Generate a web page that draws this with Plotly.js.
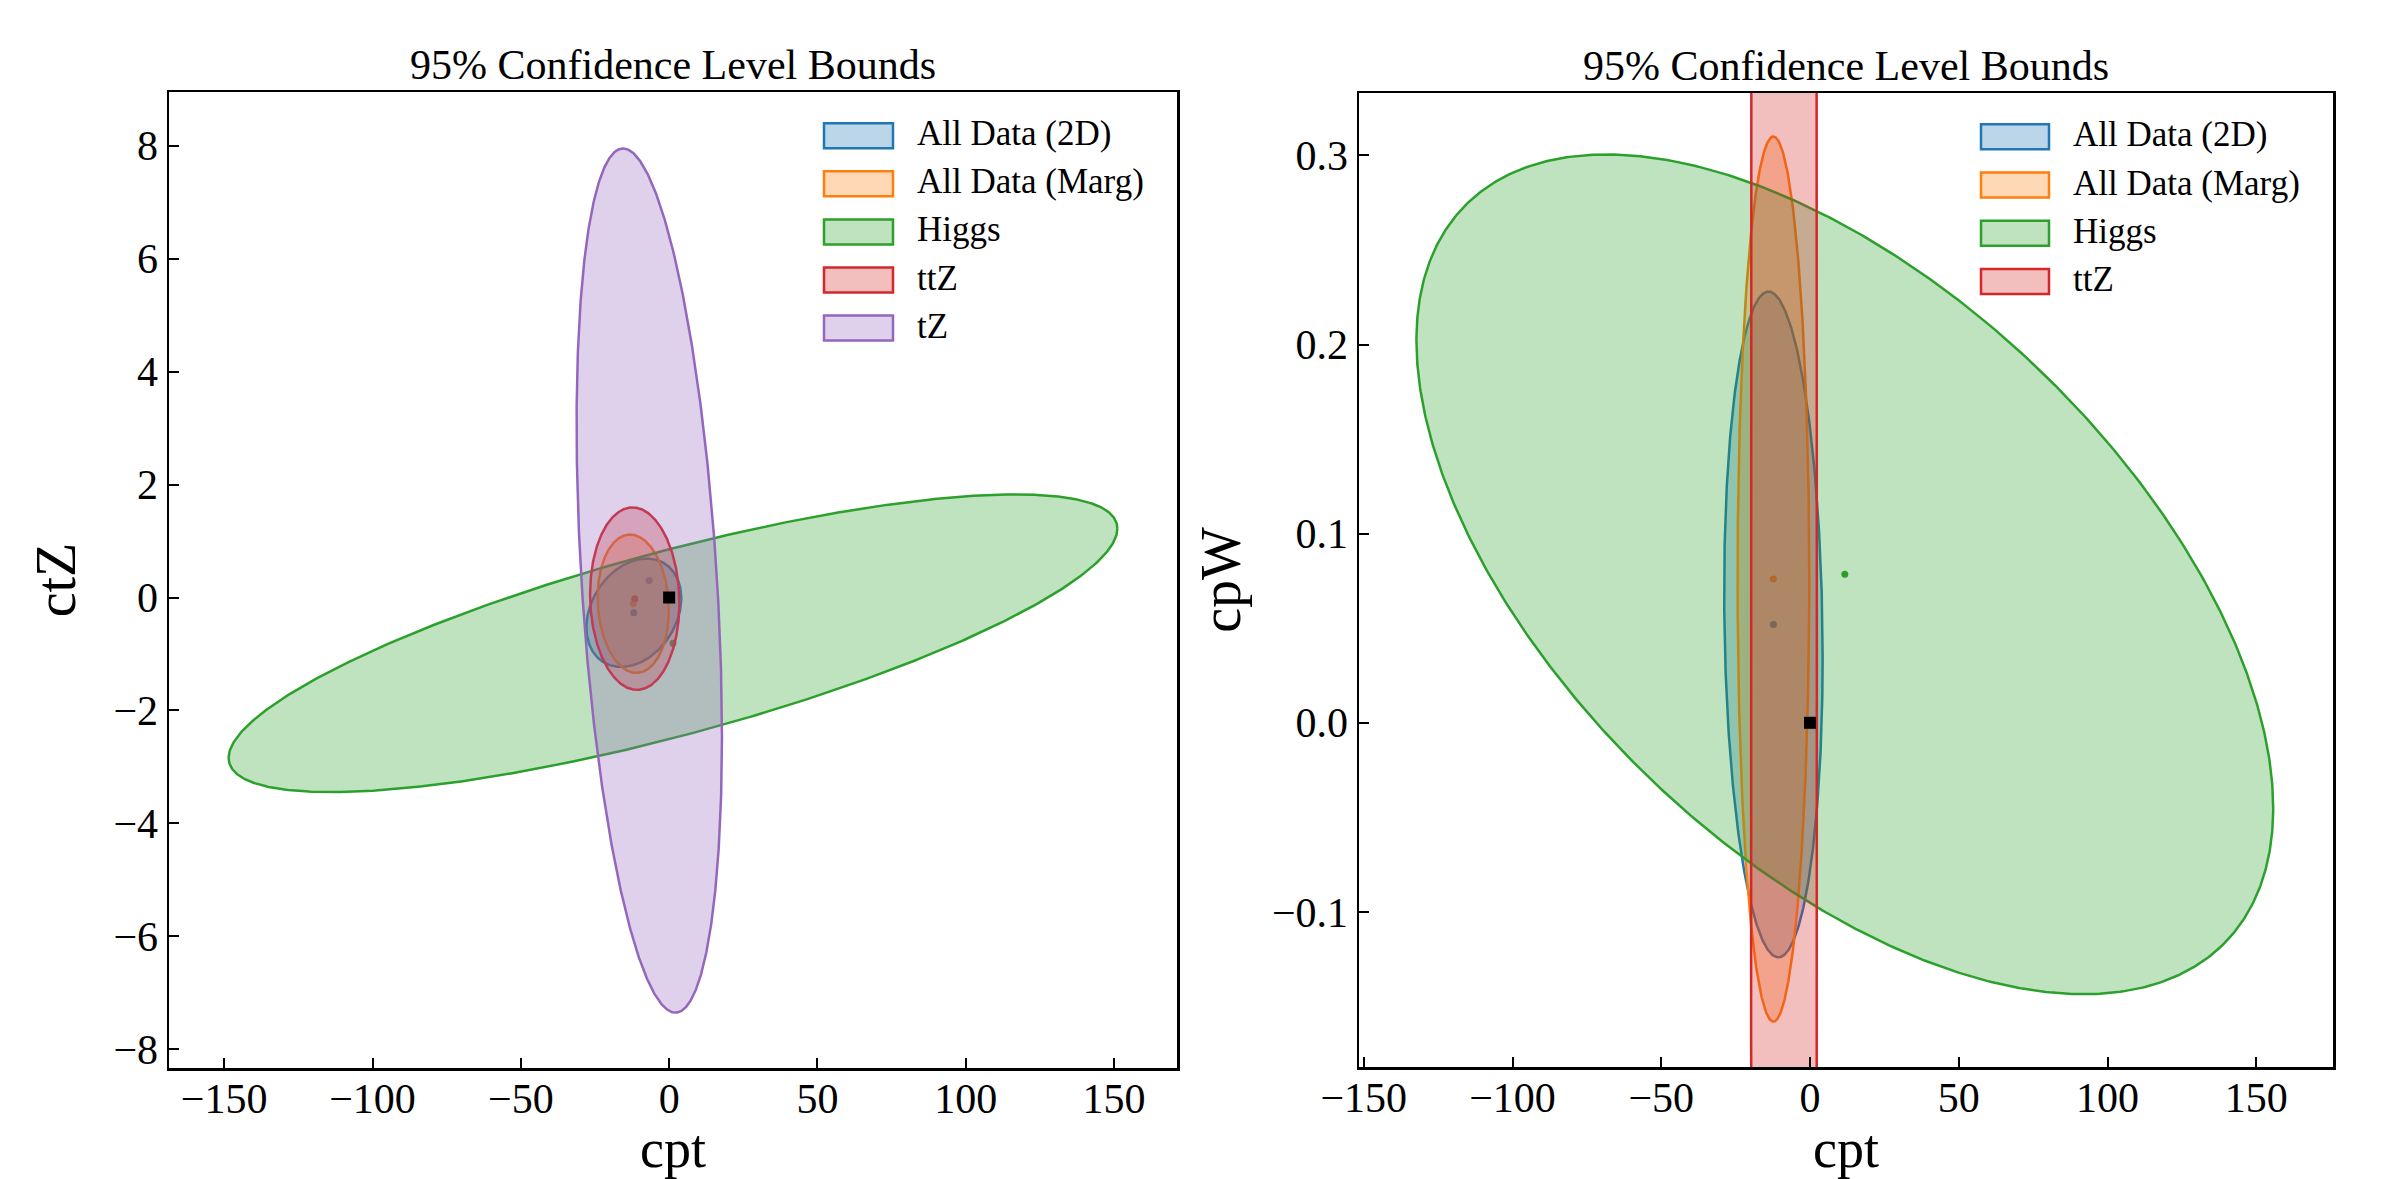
<!DOCTYPE html>
<html>
<head>
<meta charset="utf-8">
<script src="https://cdn.plot.ly/plotly-3.0.1.min.js"></script>
<style>
  html, body { margin: 0; padding: 0; background: #fff; }
  #chart { width: 2387px; height: 1179px; }
</style>
</head>
<body>
<div id="chart"></div>
<script>
// ---------------- DATA ----------------
const seriesNames  = ['All Data (2D)', 'All Data (Marg)', 'Higgs', 'ttZ', 'tZ'];
const seriesColors = ['#1f77b4', '#ff7f0e', '#2ca02c', '#d62728', '#9467bd'];

// Left panel: cpt (x) vs ctZ (y) -- best-fit centre, half extents, correlation
const leftCenterX = [-11.9, -12.1, 1.3, -11.6, -6.7];
const leftCenterY = [-0.27, -0.11, -0.81, -0.02, 0.30];
const leftHalfX   = [16.0, 12.0, 149.8, 15.05, 24.5];
const leftHalfY   = [0.96, 1.225, 2.635, 1.615, 7.65];
const leftRho     = [0.27, -0.09, 0.77, -0.05, -0.36];

// Right panel: cpt (x) vs cpW (y) -- only first four series
const rightCenterX = [-12.3, -12.3, 11.7, -8.75];
const rightCenterY = [0.052, 0.076, 0.0785, 0.05];
const rightHalfX   = [16.55, 12.05, 144.0, 11.05];
const rightHalfY   = [0.176, 0.234, 0.222, 5.0];
const rightRho     = [-0.10, 0.0, -0.557, 0.0];
const rightShowDot = [true, true, true, false];

const smPoint = [0, 0];   // Standard Model point

const titleText = '95% Confidence Level Bounds';
const xLabel = 'cpt';
const leftYLabel = 'ctZ';
const rightYLabel = 'cpW';

// ---------------- BUILD ----------------
const W = 2387, H = 1179;
const FONT = 'Liberation Serif, Times New Roman, serif';

function rgba(hex, a) {
  const r = parseInt(hex.slice(1,3),16), g = parseInt(hex.slice(3,5),16), b = parseInt(hex.slice(5,7),16);
  return `rgba(${r},${g},${b},${a})`;
}
function ellipse(cx, cy, hx, hy, rho) {
  const xs = [], ys = [], n = 720, s = Math.sqrt(1 - rho*rho);
  for (let i = 0; i <= n; i++) {
    const t = 2*Math.PI*i/n;
    xs.push(cx + hx*Math.cos(t));
    ys.push(cy + hy*(rho*Math.cos(t) + s*Math.sin(t)));
  }
  return {xs, ys};
}

const traces = [];
function addPanel(xa, ya, cx, cy, hx, hy, rho, showDot) {
  // centre dots first (drawn underneath the filled regions)
  for (let i = 0; i < cx.length; i++) {
    if (showDot && !showDot[i]) continue;
    traces.push({type:'scatter', mode:'markers', x:[cx[i]], y:[cy[i]], xaxis:xa, yaxis:ya,
      marker:{color:seriesColors[i], size:7}, showlegend:false, hoverinfo:'skip'});
  }
  for (let i = 0; i < cx.length; i++) {
    const e = ellipse(cx[i], cy[i], hx[i], hy[i], rho[i]);
    traces.push({type:'scatter', mode:'lines', x:e.xs, y:e.ys, xaxis:xa, yaxis:ya,
      fill:'toself', fillcolor:rgba(seriesColors[i], 0.3),
      line:{color:seriesColors[i], width:2.5}, name:seriesNames[i], showlegend:false, hoverinfo:'skip'});
  }
  traces.push({type:'scatter', mode:'markers', x:[smPoint[0]], y:[smPoint[1]], xaxis:xa, yaxis:ya,
    marker:{color:'#000', size:12, symbol:'square'}, showlegend:false, hoverinfo:'skip'});
}
addPanel('x', 'y', leftCenterX, leftCenterY, leftHalfX, leftHalfY, leftRho, null);
addPanel('x2', 'y2', rightCenterX, rightCenterY, rightHalfX, rightHalfY, rightRho, rightShowDot);

function axisBase(extra) {
  return Object.assign({
    showline:true, linecolor:'#000', linewidth:2.5, mirror:true,
    ticks:'inside', ticklen:10, tickwidth:2, tickcolor:'#000',
    showgrid:false, zeroline:false,
    tickfont:{family:FONT, size:42, color:'#000'},
    fixedrange:true
  }, extra);
}

const L = {x0:169, x1:1177, y0:92, y1:1068};
const R = {x0:1359, x1:2333, y0:93, y1:1067};
const labelFont = {family:FONT, size:56, color:'#000'};
const xLabelFont = {family:FONT, size:54, color:'#000'};

const layout = {
  width: W, height: H,
  margin:{l:0, r:0, t:0, b:0, pad:0},
  paper_bgcolor:'#fff', plot_bgcolor:'#fff',
  showlegend:false,
  font:{family:FONT, color:'#000'},
  xaxis: axisBase({domain:[L.x0/W, L.x1/W], anchor:'y', range:[-168.6, 171.2], dtick:50, tick0:0,
    ticklabelstandoff:-8, title:{text:xLabel, font:xLabelFont, standoff:4}}),
  yaxis: axisBase({domain:[1-L.y1/H, 1-L.y0/H], anchor:'x', range:[-8.33, 8.95], dtick:2, tick0:0,
    title:{text:leftYLabel, font:labelFont, standoff:20}}),
  xaxis2: axisBase({domain:[R.x0/W, R.x1/W], anchor:'y2', range:[-151.6, 175.8], dtick:50, tick0:0,
    ticklabelstandoff:-8, title:{text:xLabel, font:xLabelFont, standoff:4}}),
  yaxis2: axisBase({domain:[1-R.y1/H, 1-R.y0/H], anchor:'x2', range:[-0.182, 0.333], dtick:0.1, tick0:0,
    tickformat:'.1f',
    title:{text:rightYLabel, font:labelFont, standoff:14}}),
  annotations: [],
  shapes: []
};

// panel titles
[L, R].forEach(P => {
  layout.annotations.push({text:titleText, xref:'paper', yref:'paper',
    x:(P.x0+P.x1)/2/W, y:1-P.y0/H, xanchor:'center', yanchor:'bottom', yshift:2,
    showarrow:false, font:{family:FONT, size:42, color:'#000'}});
});

// legends (patch + label per series)
function addLegend(n, patchX0, patchX1, textX, rowY0, dy) {
  for (let i = 0; i < n; i++) {
    const cy = rowY0 + i*dy;
    layout.shapes.push({type:'rect', xref:'paper', yref:'paper',
      x0:patchX0/W, x1:patchX1/W, y0:1-(cy-12.5)/H, y1:1-(cy+12.5)/H,
      fillcolor:rgba(seriesColors[i], 0.3), line:{color:seriesColors[i], width:2.5}});
    layout.annotations.push({text:seriesNames[i], xref:'paper', yref:'paper',
      x:textX/W, y:1-cy/H, xanchor:'left', yanchor:'middle', yshift:2, showarrow:false,
      font:{family:FONT, size:35, color:'#000'}});
  }
}
addLegend(5, 824, 893, 915, 135.7, 48.1);
addLegend(4, 1981, 2049, 2071, 136.7, 48.3);

Plotly.newPlot('chart', traces, layout, {displayModeBar:false, staticPlot:true});
</script>
</body>
</html>
